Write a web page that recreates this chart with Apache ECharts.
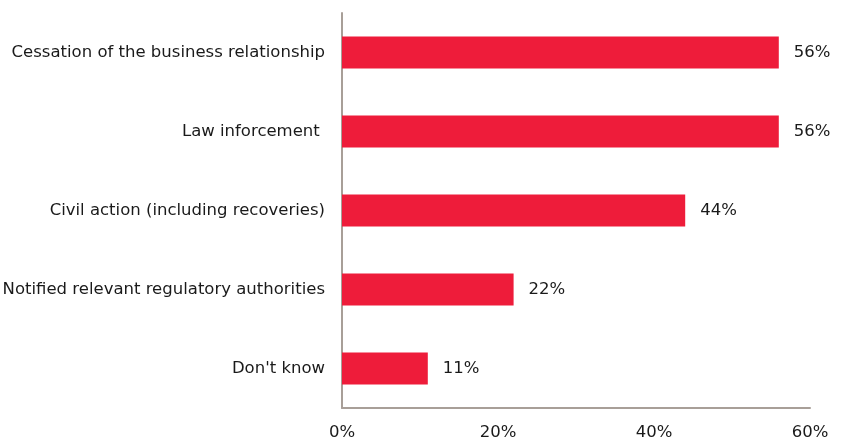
<!DOCTYPE html>
<html>
<head>
<meta charset="utf-8">
<script src="https://cdn.jsdelivr.net/npm/echarts@6/dist/echarts.min.js"></script>
<style>
  html, body { margin: 0; padding: 0; background: #fff; }
  #chart { width: 844px; height: 441px; }
</style>
</head>
<body>
<div id="chart"></div>
<script>
// Outcomes, listed top to bottom
const categories = [
  'Cessation of the business relationship',
  'Law inforcement ',
  'Civil action (including recoveries)',
  'Notified relevant regulatory authorities',
  "Don't know"
];
const shares = [56, 56, 44, 22, 11];
const tickValues = [0, 20, 40, 60];

const FONT = '"DejaVu Sans", "Liberation Sans", sans-serif';
const TEXT = '#1a1a1a';
const AXIS = '#a89f98';
const BAR = '#ee1c3a';

const chart = echarts.init(document.getElementById('chart'), null, { renderer: 'canvas' });
chart.setOption({
  animation: false,
  backgroundColor: '#ffffff',
  grid: {
    left: 342, right: 34, top: 13, bottom: 33,
    containLabel: false, outerBoundsMode: 'none'
  },
  xAxis: {
    type: 'value',
    min: tickValues[0],
    max: tickValues[tickValues.length - 1],
    interval: 20,
    axisLine: { show: true, lineStyle: { color: AXIS, width: 2 } },
    axisTick: { show: false },
    splitLine: { show: false },
    axisLabel: {
      formatter: v => v + '%',
      color: TEXT, fontFamily: FONT, fontSize: 16.5, margin: 16
    }
  },
  yAxis: {
    type: 'category',
    inverse: true,
    data: categories,
    axisLine: { show: true, lineStyle: { color: AXIS, width: 2 } },
    axisTick: { show: false },
    axisLabel: { color: TEXT, fontFamily: FONT, fontSize: 16.5, margin: 17 }
  },
  series: [{
    type: 'bar',
    data: shares,
    barWidth: 32,
    itemStyle: { color: BAR },
    label: {
      show: true, position: 'right', distance: 15,
      formatter: p => p.value + '%',
      color: TEXT, fontFamily: FONT, fontSize: 16.5
    }
  }]
});
</script>
</body>
</html>
